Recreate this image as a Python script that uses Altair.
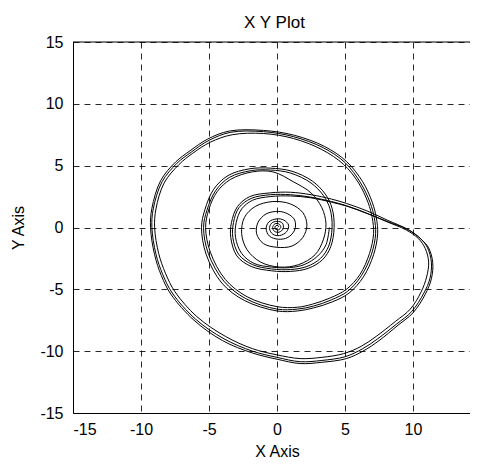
import altair as alt
import pandas as pd

# ---- trajectory, in drawing order (x, y) ----
# transient spiral growing out of the origin
trans_x = [0.05, 0.12, 0.0, -0.15, -0.1, 0.12, 0.28, 0.15, -0.15, -0.32, -0.2, 0.15, 0.45, 0.4, 0.0, -0.4, -0.55, -0.3, 0.2, 0.7, 0.85, 0.5, 0.0, -0.6, -0.8, -0.55, 0.1, 0.8, 1.3, 1.3, 0.8, 0.1, -0.8, -1.4, -1.5, -1.0, 0.0, 1.1, 1.9, 2.2, 1.9, 1.0, -0.3, -1.6, -2.4, -2.6, -2.2, -1.2, 0.2, 1.6, 2.8, 3.4, 3.6, 3.3, 2.5, 1.2]
trans_y = [0.0, 0.1, 0.18, 0.05, -0.15, -0.18, 0.02, 0.28, 0.3, 0.0, -0.3, -0.38, -0.1, 0.35, 0.5, 0.35, -0.1, -0.55, -0.65, -0.35, 0.2, 0.6, 0.7, 0.45, -0.1, -0.7, -0.95, -0.8, -0.2, 0.6, 1.1, 1.3, 1.1, 0.4, -0.5, -1.3, -1.6, -1.5, -0.8, 0.2, 1.2, 1.9, 2.1, 1.7, 0.8, -0.5, -1.8, -2.8, -3.2, -3.0, -2.2, -1.0, 0.3, 1.6, 2.8, 3.7]

# first pass: middle loop, outer loop, fold back, inner loop
pass1_x = [-0.3, -1.8, -3.4, -4.4, -5.0, -5.25, -4.9, -3.8, -2.2, 0.0, 1.5, 2.6, 3.9, 5.1, 6.1, 6.8, 7.1, 7.0, 6.7, 6.0, 4.9, 3.3, 1.2, -1.0, -3.3,
           -4.9, -6.2, -7.2, -8.3, -8.9, -9.0, -8.7, -8.2, -7.5, -5.9, -3.8, -1.8, 0.0, 1.7, 3.3, 4.9, 6.2, 7.3, 8.7, 9.8, 10.6, 11.0, 11.15, 10.9, 10.4, 9.5,
           8.0, 6.5, 5.0, 4.0, 2.5, 1.0, -0.5, -1.9, -2.8,
           -3.2, -3.25, -2.8, -1.8, -0.4, 1.0, 2.2, 3.2, 3.8, 4.05, 3.9, 3.4, 2.5, 1.0]
pass1_y = [4.5, 4.5, 3.9, 2.9, 1.5, 0.0, -2.0, -4.2, -5.6, -6.4, -6.45, -6.2, -5.7, -5.0, -3.8, -2.1, -0.5, 0.8, 2.0, 3.6, 5.1, 6.3, 7.2, 7.6, 7.5,
           6.9, 6.0, 5.1, 3.6, 1.5, 0.0, -2.1, -3.7, -5.2, -7.2, -8.8, -9.8, -10.3, -10.6, -10.5, -10.2, -9.6, -8.8, -7.6, -6.6, -5.2, -4.0, -2.8, -1.7, -0.9, -0.2,
           0.5, 1.2, 1.8, 2.1, 2.45, 2.65, 2.65, 2.35, 1.6,
           0.4, -0.8, -2.2, -3.0, -3.35, -3.4, -3.15, -2.5, -1.5, 0.0, 1.5, 2.6, 3.6, 4.4]

# second pass
pass2_x = [-0.5, -1.9, -3.5, -4.5, -5.15, -5.4, -5.05, -3.9, -2.3, 0.0, 1.5, 2.7, 4.0, 5.2, 6.2, 6.95, 7.25, 7.15, 6.85, 6.15, 5.0, 3.4, 1.2, -1.0, -3.4,
           -5.0, -6.3, -7.35, -8.45, -9.1, -9.2, -8.9, -8.4, -7.7, -6.0, -3.9, -1.8, 0.0, 1.7, 3.3, 5.0, 6.3, 7.4, 8.8, 9.9, 10.8, 11.25, 11.35, 11.05, 10.55, 9.6,
           8.1, 6.6, 5.1, 4.0, 2.5, 1.0, -0.5, -2.0, -2.9,
           -3.35, -3.4, -2.95, -1.9, -0.4, 1.0, 2.3, 3.35, 3.95, 4.2, 4.05, 3.55, 2.6, 1.1]
pass2_y = [4.65, 4.6, 4.05, 3.0, 1.4, 0.0, -2.1, -4.35, -5.75, -6.6, -6.6, -6.35, -5.85, -5.15, -3.9, -2.15, -0.5, 0.8, 2.0, 3.6, 5.25, 6.45, 7.35, 7.75, 7.7,
           7.05, 6.1, 5.2, 3.7, 1.5, 0.0, -2.15, -3.8, -5.3, -7.4, -9.0, -10.0, -10.5, -10.85, -10.75, -10.45, -9.8, -9.0, -7.8, -6.8, -5.3, -4.1, -2.8, -1.6, -0.9, -0.15,
           0.6, 1.35, 1.95, 2.3, 2.65, 2.85, 2.8, 2.5, 1.7,
           0.4, -0.8, -2.3, -3.15, -3.5, -3.55, -3.3, -2.6, -1.55, 0.0, 1.55, 2.7, 3.75, 4.55]

# third pass (ends on the inner loop)
pass3_x = [-0.5, -2.0, -3.6, -4.65, -5.3, -5.55, -5.2, -4.05, -2.4, 0.0, 1.5, 2.7, 4.1, 5.3, 6.35, 7.1, 7.4, 7.3, 7.0, 6.3, 5.1, 3.5, 1.3, -1.0, -3.5,
           -5.1, -6.4, -7.45, -8.55, -9.2, -9.3, -9.0, -8.5, -7.8, -6.1, -4.0, -1.8, 0.0, 1.7, 3.3, 5.1, 6.4, 7.5, 8.9, 10.0, 10.9, 11.35, 11.45, 11.15, 10.6, 9.7,
           8.2, 6.7, 5.2, 4.0, 2.5, 1.0, -0.5, -1.8, -2.6,
           -3.0, -3.05, -2.6, -1.7, -0.4, 0.9, 2.0, 3.0, 3.6, 3.85]
pass3_y = [4.8, 4.75, 4.2, 3.1, 1.45, 0.0, -2.2, -4.5, -5.9, -6.75, -6.75, -6.5, -6.0, -5.3, -4.0, -2.2, -0.5, 0.8, 2.05, 3.7, 5.35, 6.55, 7.45, 7.85, 7.8,
           7.15, 6.2, 5.3, 3.8, 1.55, 0.0, -2.2, -3.9, -5.4, -7.5, -9.15, -10.15, -10.65, -11.0, -10.9, -10.6, -9.95, -9.15, -7.9, -6.9, -5.4, -4.15, -2.85, -1.65, -0.95, -0.2,
           0.45, 1.1, 1.7, 2.05, 2.4, 2.55, 2.5, 2.2, 1.5,
           0.4, -0.8, -2.1, -2.9, -3.2, -3.25, -3.0, -2.3, -1.4, 0.0]

x_ticks = [-15, -10, -5, 0, 5, 10]
y_ticks = [-15, -10, -5, 0, 5, 10, 15]

xs = trans_x + pass1_x + pass2_x + pass3_x
ys = trans_y + pass1_y + pass2_y + pass3_y
df = pd.DataFrame({"x": xs, "y": ys, "order": list(range(len(xs)))})

PLOT_W, PLOT_H = 397, 371
FONT = "Liberation Sans"

x_axis = alt.Axis(
    values=x_ticks, title="X Axis", grid=True, ticks=False,
    labelExpr="'' + datum.value", labelFontSize=16,
    labelPadding=8, titleX=204, titleY=43, titleBaseline="alphabetic",
    titleFontWeight="normal", titleFontSize=16,
)
y_axis = alt.Axis(
    values=y_ticks, title="Y Axis", grid=True, ticks=False,
    labelExpr="'' + datum.value", labelFontSize=16,
    labelPadding=10, titleX=-50, titleBaseline="alphabetic",
    titleFontWeight="normal", titleFontSize=16,
)

line = alt.Chart(df).mark_line(color="black", strokeWidth=1, interpolate="catmull-rom").encode(
    x=alt.X("x:Q", scale=alt.Scale(domain=[-15, 14.19], nice=False, zero=False), axis=x_axis),
    y=alt.Y("y:Q", scale=alt.Scale(domain=[-15, 15], nice=False, zero=False), axis=y_axis),
    order="order:Q",
)

top_border = alt.Chart(pd.DataFrame({"k": [0]})).mark_rule(color="black", strokeWidth=1).encode(
    x=alt.value(0), x2=alt.value(PLOT_W), y=alt.value(0)
)

chart = alt.layer(line, top_border).properties(
    width=PLOT_W, height=PLOT_H, background="white",
    title=alt.TitleParams("X Y Plot", anchor="middle", frame="group", fontSize=17,
                          fontWeight="normal", font=FONT, color="black", offset=2, dx=3),
    autosize=alt.AutoSizeParams(type="none"),
    padding={"left": 65, "top": 34, "right": 0, "bottom": 47},
).configure_view(stroke=None).configure_axis(
    labelFont=FONT, titleFont=FONT, labelColor="black", titleColor="black",
    domainColor="black", domainWidth=1, gridColor="#111111", gridDash=[6, 5], gridWidth=1,
    gridOpacity=0.9,
)

chart.save("out.html", embed_options={"renderer": "svg", "actions": False})
